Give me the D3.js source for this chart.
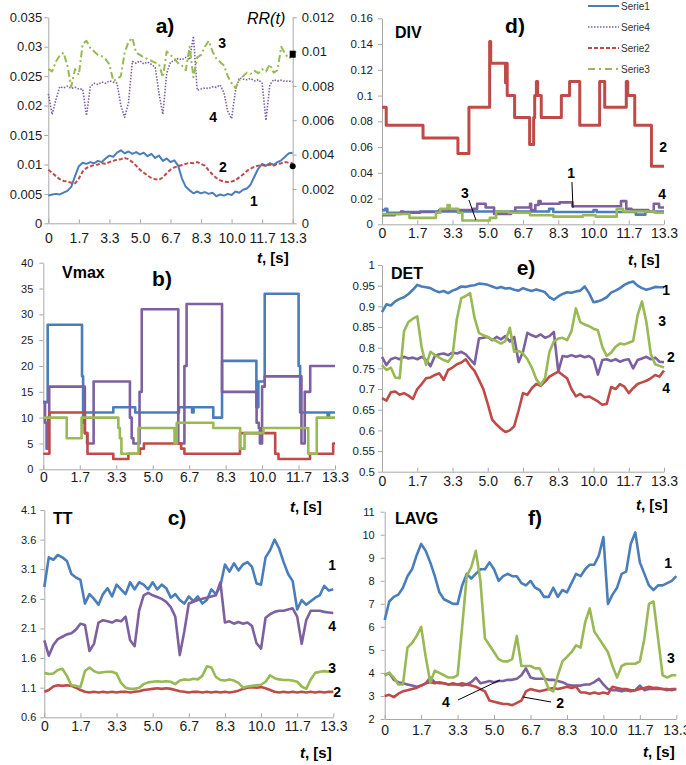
<!DOCTYPE html>
<html>
<head>
<meta charset="UTF-8">
<style>
body, html {
    margin: 0;
    padding: 0;
    background: #ffffff;
    overflow: hidden;
}
svg {
    display: block;
    font-family: "Liberation Sans", Arial, sans-serif;
}
.axis path, .axis line {
    stroke: #a8a8a8;
    stroke-width: 1;
}
.axis text {
    fill: #1a1a1a;
}
</style>
</head>
<body>
<svg id="chart" width="686" height="765"></svg>
<script src="https://d3js.org/d3.v7.min.js"></script>
<script>
// time axis, shared by all six panels
const T_END = 40 / 3;
const xTicks = [0, 5 / 3, 10 / 3, 5, 20 / 3, 25 / 3, 10, 35 / 3, 40 / 3];
const xTickLabels = ["0", "1.7", "3.3", "5.0", "6.7", "8.3", "10.0", "11.7", "13.3"];

// y tick values
const rrTicks = [0, 0.005, 0.01, 0.015, 0.02, 0.025, 0.03, 0.035];
const rrRightTicks = [0, 0.002, 0.004, 0.006, 0.008, 0.01, 0.012];
const vmaxTicks = [0, 5, 10, 15, 20, 25, 30, 35, 40];
const ttTicks = [0.6, 1.1, 1.6, 2.1, 2.6, 3.1, 3.6, 4.1];
const divTicks = [0, 0.02, 0.04, 0.06, 0.08, 0.1, 0.12, 0.14, 0.16];
const detTicks = [0.5, 0.55, 0.6, 0.65, 0.7, 0.75, 0.8, 0.85, 0.9, 0.95, 1];
const lavgTicks = [2, 3, 4, 5, 6, 7, 8, 9, 10, 11];

// a) RR(t) - evenly sampled over 0..13.3 s
const rrBlue = [.0047,.0049,.0050,.0049,.0052,.0055,.0062,.0080,.0097,.0103, .0101,.0104,.0102,.0106,.0104,.0110,.0115,.0113,.0120,.0124, .0119,.0122,.0118,.0121,.0117,.0120,.0114,.0118,.0111,.0115, .0106,.0110,.0104,.0107,.0098,.0076,.0062,.0056,.0051,.0054, .0051,.0053,.0050,.0052,.0046,.0049,.0047,.0050,.0048,.0054, .0052,.0057,.0059,.0066,.0080,.0093,.0101,.0098,.0102,.0099, .0104,.0107,.0113,.0119,.0120];
const rrRed = [.0091,.0086,.0080,.0075,.0072,.0071,.0069,.0068,.0076,.0088, .0094,.0097,.0099,.0100,.0102,.0101,.0104,.0106,.0108,.0109, .0111,.0109,.0104,.0098,.0091,.0086,.0081,.0077,.0075,.0074, .0078,.0085,.0091,.0095,.0097,.0099,.0101,.0103,.0102,.0104, .0101,.0098,.0090,.0083,.0077,.0073,.0071,.0070,.0071,.0073, .0078,.0083,.0089,.0093,.0096,.0098,.0099,.0097,.0100,.0098, .0101,.0102,.0104,.0103,.0102];
const rrPurple = [.0220,.0185,.0210,.0232,.0230,.0233,.0229,.0231,.0228,.0228, .0183,.0232,.0238,.0236,.0240,.0238,.0242,.0240,.0238,.0200, .0180,.0205,.0275,.0272,.0276,.0271,.0274,.0270,.0265,.0220, .0185,.0255,.0274,.0276,.0280,.0278,.0282,.0278,.0318,.0226, .0228,.0230,.0229,.0232,.0231,.0235,.0222,.0190,.0178,.0225, .0247,.0245,.0244,.0246,.0242,.0244,.0238,.0175,.0235,.0244, .0242,.0243,.0241,.0242,.0240];
const rrGreen = [.0262,.0258,.0275,.0285,.0290,.0268,.0232,.0262,.0252,.0305, .0310,.0298,.0292,.0286,.0284,.0279,.0270,.0242,.0245,.0250, .0290,.0308,.0315,.0290,.0286,.0282,.0279,.0276,.0273,.0270, .0248,.0292,.0286,.0280,.0272,.0268,.0260,.0300,.0248,.0282, .0286,.0300,.0310,.0292,.0280,.0274,.0268,.0250,.0238,.0230, .0243,.0250,.0256,.0254,.0259,.0255,.0262,.0258,.0270,.0256, .0260,.0300,.0288,.0280,.0285];
const rrMarks = [0.00985, 0.00332];

// b) Vmax - steps [t, value]
const vmaxBlue = [[0,13],[0.2,28],[1.77,18],[1.82,9],[1.88,11],[3.2,12],[4.2,11],[6.2,12],[6.8,11],[6.87,12],[7.77,10],[8.17,21],[9.74,12],[9.83,17],[10.12,34],[11.67,20],[11.74,11],[13.0,10],[13.06,11],[13.333,11]];
const vmaxPurple = [[0,13],[0.08,9],[0.15,4],[0.22,10],[0.27,16],[1.9,7],[2.0,5],[2.3,17],[3.96,10],[4.04,6],[4.12,5],[4.4,15],[4.5,31],[6.17,5],[6.45,20],[6.55,32],[8.17,15],[9.75,9],[9.85,8],[9.9,5],[10.0,16],[10.12,18],[11.8,5],[11.95,15],[12.2,20],[13.333,20]];
const vmaxRed = [[0,3],[0.28,11],[1.9,7],[2.02,3],[3.2,2],[3.89,3],[4.42,4],[4.6,5],[6.3,4],[6.45,3],[8.99,7],[10.6,3],[10.75,2],[12.19,3],[13.25,5],[13.333,5]];
const vmaxGreen = [[0,10],[1.07,6],[1.75,10],[3.43,8],[3.5,6],[3.57,3],[4.35,8],[6.0,5],[6.1,9],[7.77,8],[9.0,4],[9.2,7],[10.06,8],[12.11,3],[12.5,10],[13.333,10]];

// c) TT
const ttBlue = [2.80,3.30,3.26,3.34,3.30,3.24,3.02,2.96,2.92,2.52, 2.68,2.60,2.50,2.68,2.78,2.64,2.84,2.76,2.68,2.88, 2.76,2.88,2.84,2.76,2.88,2.76,2.84,2.78,2.62,2.68, 2.58,2.52,2.64,2.56,2.64,2.52,2.58,2.76,2.68,2.82, 3.18,3.06,3.20,3.08,3.18,3.22,3.14,2.86,2.84,3.30, 3.42,3.60,3.45,3.22,3.02,2.90,2.42,2.58,2.50,2.56, 2.62,2.66,2.82,2.74,2.76];
const ttPurple = [1.90,1.64,1.82,1.92,1.96,2.00,2.02,2.08,2.18,2.16, 1.72,1.84,2.20,2.24,2.22,2.20,2.24,2.22,2.30,1.90, 1.80,2.40,2.66,2.70,2.66,2.63,2.60,2.55,2.46,2.30, 1.65,2.05,2.52,2.55,2.58,2.60,2.62,2.64,2.66,2.88, 2.20,2.22,2.18,2.21,2.18,2.20,2.14,1.85,1.76,2.28, 2.34,2.38,2.40,2.40,2.42,2.44,2.30,1.84,2.24,2.40, 2.40,2.40,2.38,2.37,2.36];
const ttRed = [1.03,1.06,1.12,1.14,1.13,1.14,1.13,1.10,1.06,1.03, 1.02,1.03,1.02,1.03,1.02,1.03,1.02,1.03,1.03,1.02, 1.03,1.04,1.06,1.07,1.08,1.09,1.08,1.09,1.08,1.06, 1.04,1.03,1.02,1.03,1.03,1.02,1.03,1.02,1.03,1.02, 1.03,1.02,1.03,1.05,1.08,1.10,1.11,1.10,1.11,1.09, 1.06,1.03,1.02,1.03,1.02,1.03,1.02,1.03,1.02,1.03, 1.02,1.03,1.02,1.03,1.03];
const ttGreen = [1.35,1.33,1.34,1.40,1.42,1.30,1.14,1.13,1.11,1.38, 1.44,1.38,1.35,1.36,1.37,1.37,1.34,1.18,1.10,1.08, 1.08,1.10,1.16,1.19,1.20,1.21,1.20,1.21,1.20,1.16, 1.22,1.24,1.23,1.25,1.24,1.30,1.46,1.44,1.28,1.23, 1.22,1.24,1.22,1.18,1.10,1.12,1.13,1.14,1.15,1.20, 1.31,1.26,1.24,1.23,1.23,1.22,1.20,1.12,1.08,1.24, 1.35,1.37,1.38,1.37,1.37];

// d) DIV - steps [t, value]
const divBlue = [[0,0.011],[0.15,0.012],[0.25,0.009],[0.9,0.0095],[1.8,0.010],[7.9,0.012],[8.1,0.0095],[10.0,0.011],[10.15,0.0095],[12.0,0.0075],[12.45,0.010],[13.333,0.010]];
const divPurple = [[0,0.007],[0.6,0.008],[0.9,0.010],[1.0,0.009],[1.8,0.0095],[2.7,0.011],[4.3,0.012],[4.5,0.016],[4.9,0.013],[5.3,0.008],[6.1,0.009],[6.3,0.013],[7.0,0.016],[7.05,0.011],[7.25,0.015],[7.4,0.018],[7.5,0.016],[8.4,0.017],[9.0,0.014],[11.3,0.018],[11.55,0.012],[11.8,0.011],[12.6,0.010],[12.85,0.016],[13.1,0.013],[13.333,0.013]];
const divRed = [[0,0.091],[0.2,0.077],[1.94,0.067],[3.59,0.055],[4.11,0.091],[5.09,0.142],[5.14,0.125],[5.84,0.11],[5.88,0.125],[5.92,0.1],[6.27,0.083],[6.98,0.062],[7.17,0.083],[7.22,0.1],[7.3,0.111],[7.36,0.1],[7.53,0.083],[8.48,0.1],[8.87,0.111],[9.35,0.077],[10.29,0.111],[10.53,0.091],[11.55,0.111],[11.62,0.1],[11.95,0.077],[12.74,0.045],[13.333,0.045]];
const divGreen = [[0,0.008],[1.3,0.005],[2.55,0.009],[2.75,0.012],[3.1,0.015],[3.2,0.012],[3.6,0.009],[3.8,0.003],[5.1,0.005],[5.4,0.010],[6.0,0.009],[7.0,0.007],[8.1,0.006],[9.5,0.007],[10.1,0.006],[11.1,0.012],[11.4,0.010],[12.9,0.009],[13.333,0.009]];

// e) DET
const detBlue = [.886,.905,.902,.912,.918,.922,.930,.940,.952,.948, .946,.944,.938,.934,.937,.932,.938,.942,.948,.947, .950,.951,.955,.954,.952,.948,.944,.947,.943,.944, .940,.938,.944,.940,.937,.941,.938,.934,.922,.916, .924,.930,.934,.933,.936,.938,.948,.932,.910,.912, .916,.922,.933,.938,.944,.952,.957,.960,.950,.944, .940,.943,.947,.946,.946];
const detPurple = [.778,.758,.772,.776,.772,.778,.774,.776,.772,.778, .770,.755,.780,.784,.786,.782,.788,.786,.790,.784, .772,.760,.822,.824,.826,.818,.826,.820,.828,.815, .826,.765,.790,.836,.830,.826,.832,.824,.828,.838, .742,.780,.778,.782,.778,.781,.777,.780,.772,.735, .770,.772,.768,.772,.766,.770,.772,.750,.770,.774, .778,.772,.776,.766,.765];
const detRed = [.678,.672,.692,.694,.686,.690,.684,.676,.700,.712, .726,.728,.734,.738,.722,.746,.752,.760,.764,.772, .756,.744,.722,.700,.664,.626,.614,.604,.596,.600, .610,.648,.690,.686,.702,.712,.708,.718,.730,.736, .742,.734,.726,.700,.682,.688,.680,.682,.676,.670, .662,.664,.705,.700,.712,.706,.690,.702,.712,.716, .720,.726,.734,.730,.745];
const detGreen = [.758,.746,.752,.728,.726,.840,.862,.870,.876,.800, .758,.790,.782,.776,.770,.766,.780,.870,.920,.925, .932,.872,.836,.830,.826,.820,.816,.810,.816,.848, .790,.792,.786,.772,.752,.724,.710,.726,.790,.815, .822,.824,.818,.840,.895,.862,.856,.852,.846,.842, .802,.780,.788,.802,.810,.808,.812,.816,.878,.912, .862,.785,.760,.756,.752];

// f) LAVG
const lavgBlue = [6.3,7.1,7.3,7.4,7.7,8.2,8.5,9.1,9.6,9.3, 8.8,8.2,7.5,7.2,7.1,7.0,7.0,7.8,8.3,8.1, 8.3,8.5,8.5,8.8,8.5,8.0,8.2,8.3,8.2,8.2, 7.9,7.8,8.0,7.7,7.6,7.3,7.3,7.7,7.3,7.6, 7.5,7.9,8.3,8.2,8.5,8.7,8.7,9.1,9.9,7.0, 7.4,7.7,8.3,8.4,9.6,10.1,8.8,8.3,7.8,7.6, 7.8,7.8,7.9,8.0,8.2];
const lavgPurple = [3.9,4.0,3.7,3.6,3.55,3.5,3.45,3.4,3.45,3.55, 3.8,3.6,3.55,3.55,3.5,3.5,3.5,3.45,3.5,3.6, 3.8,3.55,3.6,3.65,3.6,3.65,3.65,3.7,3.7,3.75, 3.9,4.2,3.8,3.75,3.75,3.75,3.7,3.7,3.65,3.6, 3.5,3.45,3.45,3.45,3.5,3.5,3.6,3.75,3.5,3.3, 3.25,3.25,3.2,3.25,3.2,3.25,3.45,3.25,3.3,3.3, 3.3,3.3,3.25,3.3,3.3];
const lavgRed = [3.0,3.05,2.95,3.1,3.2,3.25,3.3,3.35,3.45,3.55, 3.6,3.55,3.6,3.55,3.5,3.55,3.5,3.55,3.5,3.45, 3.4,3.3,3.2,2.8,2.75,2.7,2.65,2.65,2.6,2.7, 2.8,3.2,3.3,3.25,3.2,3.25,3.3,3.35,3.3,3.35, 3.4,3.35,3.4,3.15,3.15,3.1,3.15,3.1,3.15,3.1, 3.4,3.35,3.3,3.3,3.25,3.25,3.3,3.35,3.4,3.35, 3.35,3.3,3.3,3.25,3.3];
const lavgGreen = [3.9,4.0,3.8,3.5,3.5,5.1,5.3,5.6,6.0,4.7, 3.6,4.1,4.0,3.9,3.8,3.8,3.9,6.0,8.2,8.6, 9.3,8.0,5.5,5.2,4.9,4.6,4.5,4.5,4.6,5.6, 4.3,4.3,4.3,4.2,4.2,3.8,3.3,3.2,3.9,4.5, 4.7,4.9,5.2,5.1,6.2,6.8,5.8,5.5,5.2,4.9, 4.3,3.8,4.3,4.4,4.4,4.4,4.5,5.5,7.0,7.1, 5.5,3.9,3.8,3.9,3.9];

const legendNames = ["Serie1", "Serie4", "Serie2", "Serie3"];

const BLUE = "#4a7ebb", RED = "#be4b48", GREEN = "#98b954", PURPLE = "#7d60a0";

let svg = d3.select("#chart");

function evenly(values) {
    return values.map((v, i) => [i * T_END / (values.length - 1), v]);
}

function numFmt(d) {
    return String(+d.toFixed(4));
}

let panels = [
    {
        left: 48.3, right: 292.7, top: 17.3, bottom: 223.3, yDomain: [0, 0.035], yTicks: rrTicks,
        yFont: 13, yPad: 2, xPad: 10,
        letter: "a)", letterX: 165, letterY: 33,
        tX: 257, tY: 263,
        series: [
            {pts: evenly(rrBlue), color: BLUE, w: 2},
            {pts: evenly(rrPurple), color: PURPLE, w: 1.6, dash: "1.5,1.5"},
            {pts: evenly(rrRed), color: RED, w: 2, dash: "4,2"},
            {pts: evenly(rrGreen), color: GREEN, w: 2, dash: "7,3,2,3"}
        ],
        notes: [["3", 9.48, 0.0306], ["4", 8.99, 0.0181], ["2", 9.53, 0.0096], ["1", 11.22, 0.0038]],
        leaders: []
    },
    {
        left: 43.3, right: 335, top: 262.7, bottom: 469.3, yDomain: [0, 40], yTicks: vmaxTicks,
        yFont: 11, yPad: 6, xPad: 3,
        letter: "b)", letterX: 162, letterY: 286,
        name: "Vmax", nameX: 62, nameY: 278,
        tX: 290, tY: 512,
        series: [
            {pts: vmaxBlue, color: BLUE, w: 2.6, step: true},
            {pts: vmaxPurple, color: PURPLE, w: 2.6, step: true},
            {pts: vmaxRed, color: RED, w: 2.6, step: true},
            {pts: vmaxGreen, color: GREEN, w: 2.6, step: true}
        ],
        notes: [],
        leaders: []
    },
    {
        left: 44.3, right: 333.3, top: 510, bottom: 717.3, yDomain: [0.6, 4.1], yTicks: ttTicks,
        yFont: 11, yPad: 4, xPad: 4,
        letter: "c)", letterX: 177, letterY: 525,
        name: "TT", nameX: 53, nameY: 524,
        tX: 300, tY: 758,
        series: [
            {pts: evenly(ttBlue), color: BLUE, w: 2.6},
            {pts: evenly(ttPurple), color: PURPLE, w: 2.6},
            {pts: evenly(ttRed), color: RED, w: 2.6},
            {pts: evenly(ttGreen), color: GREEN, w: 2.6}
        ],
        notes: [["1", 13.28, 3.171], ["4", 13.28, 2.142], ["3", 13.28, 1.432], ["2", 13.51, 1.027]],
        leaders: []
    },
    {
        left: 382, right: 664, top: 18.3, bottom: 224.3, yDomain: [0, 0.16], yTicks: divTicks,
        yFont: 11.5, yPad: 5, xPad: 4,
        letter: "d)", letterX: 515, letterY: 33,
        name: "DIV", nameX: 395, nameY: 38,
        tX: 628, tY: 265,
        series: [
            {pts: divBlue, color: BLUE, w: 2.6, step: true},
            {pts: divPurple, color: PURPLE, w: 2.6, step: true},
            {pts: divRed, color: RED, w: 3, step: true},
            {pts: divGreen, color: GREEN, w: 2.6, step: true}
        ],
        notes: [["2", 13.29, 0.060], ["1", 8.94, 0.0398], ["4", 13.24, 0.0235], ["3", 3.92, 0.0243]],
        leaders: [[8.98, 0.0329, 9.03, 0.0127], [4.11, 0.0189, 4.44, 0.0033]]
    },
    {
        left: 382, right: 664, top: 265, bottom: 471.7, yDomain: [0.5, 1], yTicks: detTicks,
        yFont: 11.5, yPad: 3, xPad: 4,
        letter: "e)", letterX: 526, letterY: 275,
        name: "DET", nameX: 391, nameY: 279,
        tX: 636, tY: 510,
        series: [
            {pts: evenly(detBlue), color: BLUE, w: 2.6},
            {pts: evenly(detPurple), color: PURPLE, w: 2.6},
            {pts: evenly(detRed), color: RED, w: 2.6},
            {pts: evenly(detGreen), color: GREEN, w: 2.6}
        ],
        notes: [["1", 13.43, 0.9395], ["3", 13.24, 0.8645], ["2", 13.66, 0.7775], ["4", 13.43, 0.7025]],
        leaders: []
    },
    {
        left: 384.7, right: 676.3, top: 511.7, bottom: 719, yDomain: [2, 11], yTicks: lavgTicks,
        yFont: 11, yPad: 6, xPad: 6,
        letter: "f)", letterX: 535, letterY: 525,
        name: "LAVG", nameX: 395, nameY: 524,
        tX: 643, tY: 757,
        series: [
            {pts: evenly(lavgBlue), color: BLUE, w: 2.6},
            {pts: evenly(lavgPurple), color: PURPLE, w: 2.6},
            {pts: evenly(lavgRed), color: RED, w: 2.6},
            {pts: evenly(lavgGreen), color: GREEN, w: 2.6}
        ],
        notes: [["1", 12.96, 8.774], ["3", 13.09, 4.649], ["4", 2.80, 2.738], ["2", 8.02, 2.695]],
        leaders: [[3.35, 2.825, 5.27, 3.69], [7.61, 2.738, 6.33, 2.955]]
    }
];

function drawPanel(p) {
    let g = svg.append("g");
    let x = d3.scaleLinear().domain([0, T_END]).range([p.left, p.right]);
    let y = d3.scaleLinear().domain(p.yDomain).range([p.bottom, p.top]);

    let yAxis = d3.axisLeft(y)
        .tickValues(p.yTicks)
        .tickFormat(numFmt)
        .tickSize(4)
        .tickSizeOuter(0)
        .tickPadding(p.yPad);
    g.append("g")
        .attr("class", "axis")
        .attr("transform", `translate(${p.left},0)`)
        .call(yAxis)
        .selectAll("text")
        .style("font-size", p.yFont + "px");

    // x ticks point inwards, like Excel's defaults here
    let xAxis = d3.axisBottom(x)
        .tickValues(xTicks)
        .tickFormat((d, i) => xTickLabels[i])
        .tickSize(-4)
        .tickSizeOuter(0)
        .tickPadding(p.xPad);
    g.append("g")
        .attr("class", "axis")
        .attr("transform", `translate(0,${p.bottom})`)
        .call(xAxis)
        .selectAll("text")
        .style("font-size", "14px");

    p.series.forEach(s => {
        let line = d3.line()
            .x(d => x(d[0]))
            .y(d => y(d[1]))
            .curve(s.step ? d3.curveStepAfter : d3.curveLinear);
        g.append("path")
            .datum(s.pts)
            .attr("d", line)
            .attr("fill", "none")
            .attr("stroke", s.color)
            .attr("stroke-width", s.w)
            .attr("stroke-linejoin", "round")
            .attr("stroke-dasharray", s.dash || null);
    });

    g.selectAll(".leader")
        .data(p.leaders)
        .enter()
        .append("line")
        .attr("x1", d => x(d[0]))
        .attr("y1", d => y(d[1]))
        .attr("x2", d => x(d[2]))
        .attr("y2", d => y(d[3]))
        .attr("stroke", "#000")
        .attr("stroke-width", 1);

    g.selectAll(".note")
        .data(p.notes)
        .enter()
        .append("text")
        .attr("x", d => x(d[1]))
        .attr("y", d => y(d[2]))
        .attr("dy", "0.36em")
        .attr("text-anchor", "middle")
        .style("font-size", "14px")
        .style("font-weight", "bold")
        .text(d => d[0]);

    g.append("text")
        .attr("x", p.letterX)
        .attr("y", p.letterY)
        .attr("text-anchor", "middle")
        .style("font-size", "21px")
        .style("font-weight", "bold")
        .text(p.letter);

    if (p.name) {
        g.append("text")
            .attr("x", p.nameX)
            .attr("y", p.nameY)
            .style("font-size", "16px")
            .style("font-weight", "bold")
            .text(p.name);
    }

    let t = g.append("text")
        .attr("x", p.tX)
        .attr("y", p.tY)
        .style("font-size", "15px")
        .style("font-weight", "bold");
    t.append("tspan").style("font-style", "italic").text("t");
    t.append("tspan").text(", [s]");

    return {x: x, y: y, g: g};
}

let drawn = panels.map(drawPanel);

// right axis of panel a
let pa = panels[0];
let yRight = d3.scaleLinear().domain([0, 0.012]).range([pa.bottom, pa.top]);
svg.append("g")
    .attr("class", "axis")
    .attr("transform", `translate(${pa.right},0)`)
    .call(d3.axisRight(yRight).tickValues(rrRightTicks).tickFormat(numFmt).tickSize(4).tickSizeOuter(0).tickPadding(5))
    .selectAll("text")
    .style("font-size", "13px");

svg.append("rect")
    .attr("x", pa.right - 3)
    .attr("y", yRight(rrMarks[0]) - 3.5)
    .attr("width", 6)
    .attr("height", 7)
    .attr("fill", "#000");
svg.append("circle")
    .attr("cx", pa.right)
    .attr("cy", yRight(rrMarks[1]))
    .attr("r", 3)
    .attr("fill", "#000");

let rr = svg.append("text")
    .attr("x", 247)
    .attr("y", 24)
    .style("font-size", "16px")
    .style("font-style", "italic");
rr.text("RR(t)");

// legend, top right
let legendStyles = [
    {color: BLUE, w: 2, dash: null},
    {color: PURPLE, w: 1.6, dash: "1.5,1.5"},
    {color: RED, w: 2, dash: "4,2"},
    {color: GREEN, w: 2, dash: "7,4,2,4"}
];
let legend = svg.append("g").attr("transform", "translate(588,6)");
let item = legend.selectAll(".legend-item")
    .data(legendNames)
    .enter()
    .append("g")
    .attr("transform", (d, i) => `translate(0, ${i * 21})`);
item.append("line")
    .attr("x1", 0).attr("x2", 31)
    .attr("y1", 0).attr("y2", 0)
    .attr("stroke", (d, i) => legendStyles[i].color)
    .attr("stroke-width", (d, i) => legendStyles[i].w)
    .attr("stroke-dasharray", (d, i) => legendStyles[i].dash);
item.append("text")
    .attr("x", 33)
    .attr("dy", "0.35em")
    .style("font-size", "10px")
    .style("fill", "#333")
    .text(d => d);
</script>
</body>
</html>
